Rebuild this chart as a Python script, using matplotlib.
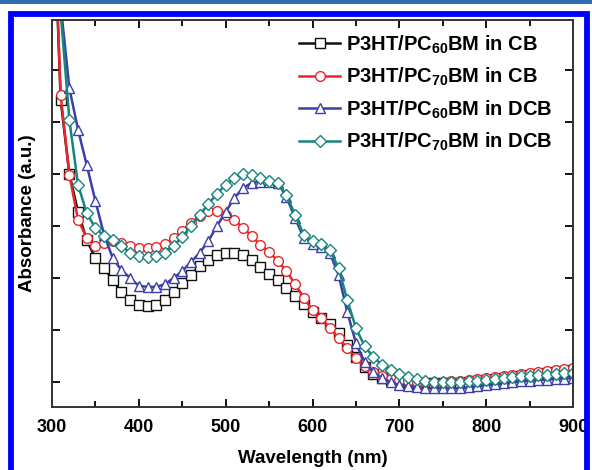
import numpy as np
import matplotlib
matplotlib.use("Agg")
import matplotlib.pyplot as plt
from matplotlib.patches import Rectangle
from matplotlib.ticker import MultipleLocator

plt.rcParams['font.family'] = ['Liberation Sans', 'DejaVu Sans']
plt.rcParams['font.weight'] = 'bold'
plt.rcParams['mathtext.fontset'] = 'custom'
plt.rcParams['mathtext.rm'] = 'Liberation Sans:bold'
plt.rcParams['mathtext.bf'] = 'Liberation Sans:bold'

# wavelength grid (nm), one marker every 10 nm
wavelength = list(range(300, 901, 10))

# absorbance (a.u.)
pc60_cb = [10.0, 5.42, 4.0, 3.27, 2.73, 2.38, 2.19, 1.96, 1.73, 1.58, 1.48, 1.46, 1.48, 1.58, 1.73,
           1.90, 2.06, 2.23, 2.35, 2.44, 2.48, 2.48, 2.44, 2.35, 2.21, 2.08, 1.96, 1.81, 1.65, 1.50,
           1.35, 1.23, 1.12, 0.94, 0.71, 0.48, 0.29, 0.15, 0.08, 0.04, 0.02, 0.0, -0.02, -0.02, -0.02,
           -0.02, -0.02, -0.02, 0.0, 0.02, 0.04, 0.06, 0.08, 0.10, 0.12, 0.13, 0.15, 0.17, 0.19, 0.21, 0.23]
pc70_cb = [10.0, 5.52, 3.98, 3.12, 2.77, 2.62, 2.67, 2.71, 2.67, 2.62, 2.58, 2.58, 2.60, 2.65, 2.77,
           2.90, 3.06, 3.19, 3.29, 3.29, 3.21, 3.12, 2.96, 2.81, 2.63, 2.50, 2.33, 2.13, 1.88, 1.62,
           1.38, 1.23, 1.04, 0.85, 0.65, 0.46, 0.31, 0.19, 0.12, 0.06, 0.04, 0.02, 0.0, 0.0, 0.0,
           0.0, 0.02, 0.02, 0.04, 0.06, 0.08, 0.10, 0.12, 0.13, 0.15, 0.17, 0.19, 0.21, 0.23, 0.25, 0.27]
pc60_dcb = [10.0, 7.25, 5.65, 4.85, 4.17, 3.48, 2.83, 2.38, 2.15, 2.00, 1.85, 1.83, 1.83, 1.88, 2.00,
            2.13, 2.31, 2.48, 2.71, 3.00, 3.27, 3.54, 3.73, 3.83, 3.85, 3.85, 3.83, 3.56, 3.15, 2.77,
            2.65, 2.60, 2.48, 2.06, 1.35, 0.75, 0.38, 0.19, 0.08, 0.0, -0.06, -0.08, -0.10, -0.12, -0.12,
            -0.12, -0.12, -0.12, -0.10, -0.08, -0.06, -0.04, -0.02, 0.0, 0.02, 0.02, 0.04, 0.04, 0.06, 0.06, 0.08]
pc70_dcb = [10.0, 7.1, 5.04, 3.79, 3.25, 2.96, 2.81, 2.73, 2.62, 2.48, 2.42, 2.40, 2.42, 2.48, 2.62,
            2.79, 3.00, 3.21, 3.42, 3.62, 3.79, 3.92, 4.00, 3.98, 3.92, 3.87, 3.83, 3.60, 3.21, 2.83,
            2.71, 2.65, 2.54, 2.19, 1.58, 1.04, 0.69, 0.48, 0.33, 0.23, 0.15, 0.10, 0.06, 0.02, 0.0,
            0.0, 0.0, 0.0, 0.02, 0.02, 0.04, 0.06, 0.08, 0.10, 0.12, 0.12, 0.13, 0.13, 0.15, 0.17, 0.17]

labels = [r'P3HT/PC$_{60}$BM in CB', r'P3HT/PC$_{70}$BM in CB',
          r'P3HT/PC$_{60}$BM in DCB', r'P3HT/PC$_{70}$BM in DCB']
colors = ['#111111', '#e8262b', '#3b3fa6', '#17857d']
markers = ['s', 'o', '^', 'D']
msizes = [6.5, 7, 7.5, 6.5]

fig = plt.figure(figsize=(5.92, 4.70), dpi=100)

# frame around the figure
fig.patches.append(Rectangle((0, 466 / 470), 1, 4 / 470, transform=fig.transFigure,
                             facecolor='#2f6db0', edgecolor='none'))
fig.patches.append(Rectangle((11 / 592, -0.05), 576 / 592, (470 - 13.5) / 470 + 0.05,
                             transform=fig.transFigure, facecolor='none',
                             edgecolor='#0000ff', linewidth=4.2))

ax = fig.add_axes([52 / 592, 63 / 470, 521 / 592, 387 / 470])

series = [pc60_cb, pc70_cb, pc60_dcb, pc70_dcb]
for vals, lab, c, m, ms in zip(series, labels, colors, markers, msizes):
    ax.plot(wavelength, vals, color=c, marker=m, markersize=ms, markerfacecolor='white',
            markeredgecolor=c, markeredgewidth=1.0, linewidth=1.8, label=lab)

ax.set_xlim(300, 900)
ax.set_ylim(-0.48, 6.96)
ax.xaxis.set_major_locator(MultipleLocator(100))
ax.xaxis.set_minor_locator(MultipleLocator(50))
ax.set_yticks(range(0, 7))
ax.set_yticklabels([])
ax.tick_params(axis='both', which='both', direction='in', top=True, right=True, width=1.3)
ax.tick_params(axis='both', which='major', length=6)
ax.tick_params(axis='x', which='minor', length=4)
ax.tick_params(axis='x', labelsize=13, pad=9)
for lbl in ax.get_xticklabels():
    lbl.set_fontweight('bold')
for sp in ax.spines.values():
    sp.set_linewidth(1.4)
    sp.set_color('#333333')

ax.set_xlabel('Wavelength (nm)', fontsize=13.5, fontweight='bold', labelpad=10)
ax.set_ylabel('Absorbance (a.u.)', fontsize=13.5, fontweight='bold', labelpad=8)

leg = ax.legend(loc='upper left', bbox_to_anchor=(0.44, 1.012), frameon=False,
                fontsize=14.5, handlelength=2.0, handletextpad=0.3, labelspacing=0.5)

fig.savefig('out.png', dpi=100)
